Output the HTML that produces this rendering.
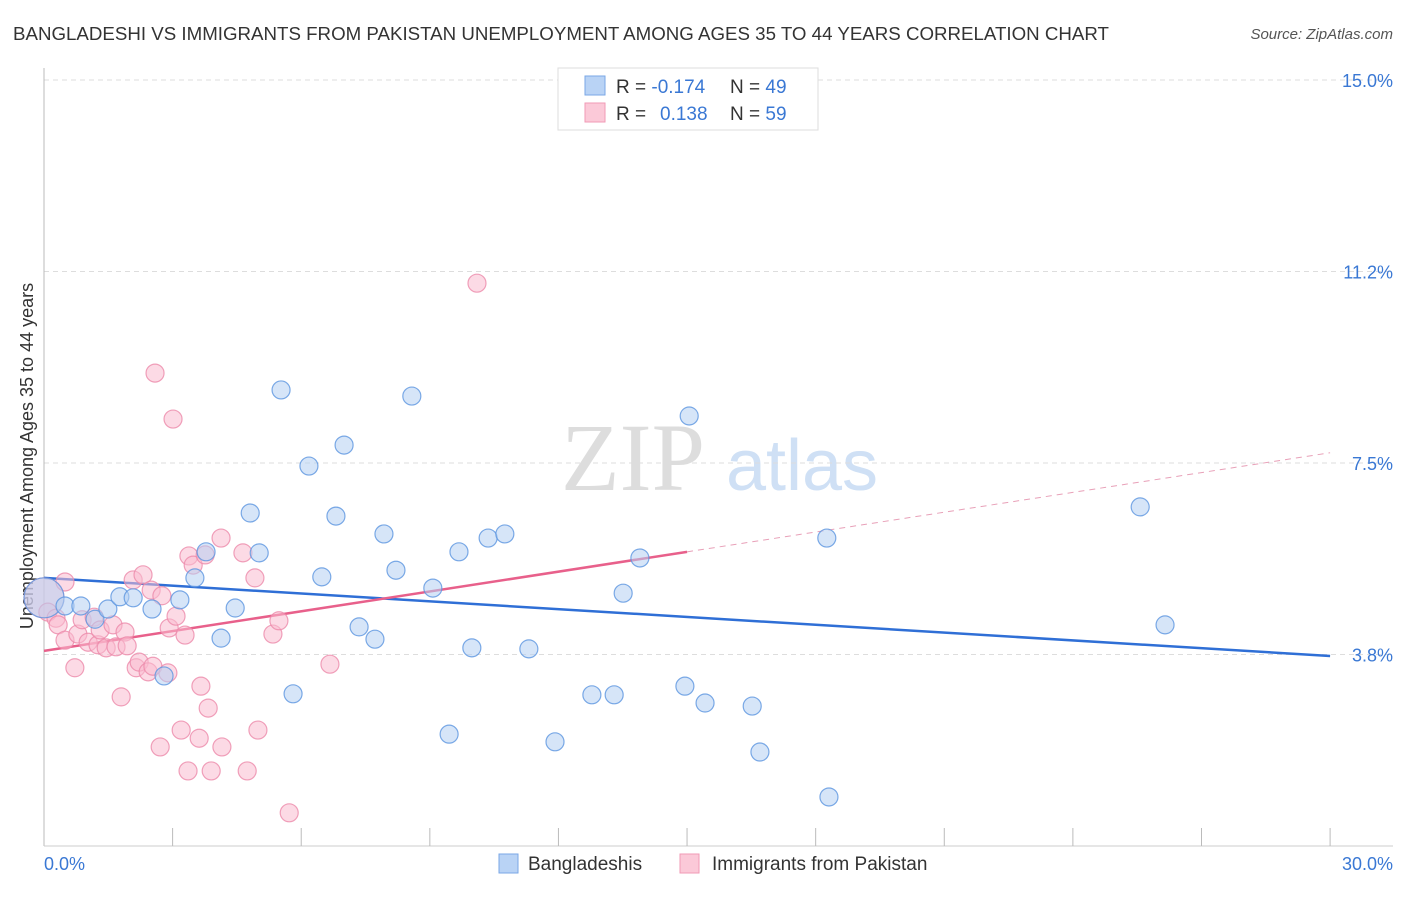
<!DOCTYPE html>
<html><head><meta charset="utf-8"><style>
body{margin:0;background:#fff;width:1406px;height:892px;overflow:hidden;font-family:"Liberation Sans",sans-serif}
</style></head><body>
<svg id="chart" width="1406" height="892" xmlns="http://www.w3.org/2000/svg" font-family="Liberation Sans, sans-serif">
<text x="13" y="40" font-size="18" fill="#333" textLength="1096" lengthAdjust="spacingAndGlyphs">BANGLADESHI VS IMMIGRANTS FROM PAKISTAN UNEMPLOYMENT AMONG AGES 35 TO 44 YEARS CORRELATION CHART</text>
<text x="1393" y="39" font-size="15" fill="#555" font-style="italic" text-anchor="end">Source: ZipAtlas.com</text>
<text transform="translate(33,456) rotate(-90)" font-size="18" fill="#333" text-anchor="middle">Unemployment Among Ages 35 to 44 years</text>
<g>
<text x="633" y="490" font-size="96" fill="#ddd" font-family="Liberation Serif, serif" text-anchor="middle">ZIP</text>
<text x="802" y="490" font-size="72" fill="#cfe0f5" text-anchor="middle">atlas</text>
</g>
<g id="grid"></g><g id="axes"></g><g id="lines"></g><g id="pts"></g>
<g>
<rect x="558" y="68" width="260" height="62" fill="#fff" stroke="#ddd"/>
<rect x="585" y="76" width="20" height="19" fill="#b9d3f5" stroke="#7aa7e6"/>
<rect x="585" y="103" width="20" height="19" fill="#fbc9d8" stroke="#f09ab6"/>
<text x="616" y="93" font-size="19" fill="#333">R = <tspan fill="#3a78d4">-0.174</tspan><tspan x="730">N = </tspan><tspan fill="#3a78d4">49</tspan></text>
<text x="616" y="120" font-size="19" fill="#333">R = <tspan x="660" fill="#3a78d4">0.138</tspan><tspan x="730">N = </tspan><tspan fill="#3a78d4">59</tspan></text>
</g>
<g>
<rect x="499" y="854" width="19" height="19" fill="#b9d3f5" stroke="#7aa7e6"/>
<text x="528" y="870" font-size="19" fill="#333">Bangladeshis</text>
<rect x="680" y="854" width="19" height="19" fill="#fbc9d8" stroke="#f09ab6"/>
<text x="712" y="870" font-size="19" fill="#333">Immigrants from Pakistan</text>
</g>
</svg>
<script>
const blueX=[0,0.49,0.86,1.19,1.49,1.77,2.08,2.52,3.17,2.80,3.52,3.78,4.13,4.46,4.81,5.02,5.53,5.81,6.18,6.48,6.81,7.00,7.35,7.72,7.93,8.21,8.58,9.07,9.45,9.68,9.98,10.36,10.75,11.31,11.92,12.78,13.30,13.51,13.90,14.95,15.05,15.42,16.52,16.70,18.26,18.31,25.57,26.15];
const blueY=[4.86,4.70,4.70,4.44,4.64,4.88,4.86,4.64,4.82,3.33,5.25,5.76,4.07,4.66,6.52,5.74,8.93,2.98,7.44,5.27,6.46,7.85,4.29,4.05,6.11,5.40,8.81,5.05,2.19,5.76,3.88,6.03,6.11,3.86,2.04,2.96,2.96,4.95,5.64,3.13,8.42,2.80,2.74,1.84,6.03,0.96,6.64,4.33];
const pinkX=[0,0.09,0.28,0.33,0.49,0.49,0.72,0.79,0.89,1.03,1.17,1.26,1.31,1.45,1.61,1.68,1.80,1.89,1.94,2.08,2.15,2.22,2.31,2.43,2.50,2.59,2.54,2.71,2.75,2.89,2.92,3.01,3.08,3.20,3.29,3.38,3.36,3.48,3.62,3.66,3.76,3.83,3.90,4.13,4.15,4.64,4.74,4.92,4.99,5.34,5.48,5.72,6.67,10.10];
const pinkY=[4.86,4.58,4.46,4.33,5.17,4.03,3.49,4.15,4.43,3.99,4.48,3.94,4.23,3.88,4.33,3.90,2.92,4.19,3.92,5.21,3.49,3.60,5.31,3.41,5.01,9.26,3.52,1.94,4.90,3.39,4.27,8.36,4.50,2.27,4.13,5.68,1.47,5.50,2.11,3.13,5.70,2.70,1.47,6.03,1.94,5.74,1.47,5.25,2.27,4.15,4.41,0.65,3.56,11.02];
const yTicks=[3.75,7.5,11.25,15];
const yTickLabels=["3.8%","7.5%","11.2%","15.0%"];
const blueTrend=[5.25,3.72];
const pinkTrend=[3.82,7.70];
const pinkSolidEnd=15;
const NS="http://www.w3.org/2000/svg";
const X=v=>44+v*42.87, Y=v=>846-v*51.07;
function mk(p,t,a){const e=document.createElementNS(NS,t);for(const k in a)e.setAttribute(k,a[k]);p.appendChild(e);return e;}
const grid=document.getElementById('grid'),axes=document.getElementById('axes'),lines=document.getElementById('lines'),pts=document.getElementById('pts');
yTicks.forEach((t,i)=>{
 const g=mk(grid,'line',{x1:44,x2:1393,y1:Y(t),y2:Y(t),stroke:'#ddd','stroke-dasharray':'5,4'});
 
 
 const l=mk(axes,'text',{x:1393,y:Y(t)+7,'font-size':18,fill:'#3a78d4','text-anchor':'end'});
 
 
 l.textContent=yTickLabels[i];
});
let a=mk(axes,'line',{x1:44,x2:44,y1:68,y2:846,stroke:'#bbb'});


a=mk(axes,'line',{x1:44,x2:1393,y1:846,y2:846,stroke:'#ccc'});


for(let i=1;i<=10;i++){
 const t=mk(axes,'line',{x1:X(i*3),x2:X(i*3),y1:828,y2:846,stroke:'#bbb'});
 
 
}
let t=mk(axes,'text',{x:44,y:870,'font-size':18,fill:'#3a78d4'});


t.textContent='0.0%';
t=mk(axes,'text',{x:1393,y:870,'font-size':18,fill:'#3a78d4','text-anchor':'end'});


t.textContent='30.0%';
function drawPts(xs,ys,fill,stroke,name){
 xs.forEach((x,i)=>{
  const c=mk(pts,'circle',{cx:X(x),cy:Y(ys[i]),r:i===0?20:9,fill:fill,'fill-opacity':0.55,stroke:stroke,'stroke-opacity':0.8,'stroke-width':1.2});
  
  
 });
}
drawPts(pinkX,pinkY,'#f9bcd0','#ec8aaa','point-pakistan');
drawPts(blueX,blueY,'#b4cff3','#5b95e0','point-bangladeshi');
let ln=mk(lines,'line',{x1:X(0),y1:Y(blueTrend[0]),x2:X(30),y2:Y(blueTrend[1]),stroke:'#2f6fd6','stroke-width':2.5});


const pk=v=>pinkTrend[0]+(pinkTrend[1]-pinkTrend[0])*v/30;
ln=mk(lines,'line',{x1:X(0),y1:Y(pk(0)),x2:X(pinkSolidEnd),y2:Y(pk(pinkSolidEnd)),stroke:'#e8608b','stroke-width':2.5});


ln=mk(lines,'line',{x1:X(pinkSolidEnd),y1:Y(pk(pinkSolidEnd)),x2:X(30),y2:Y(pk(30)),stroke:'#e8a0b8','stroke-width':1,'stroke-dasharray':'6,5'});


</script>
</body></html>
